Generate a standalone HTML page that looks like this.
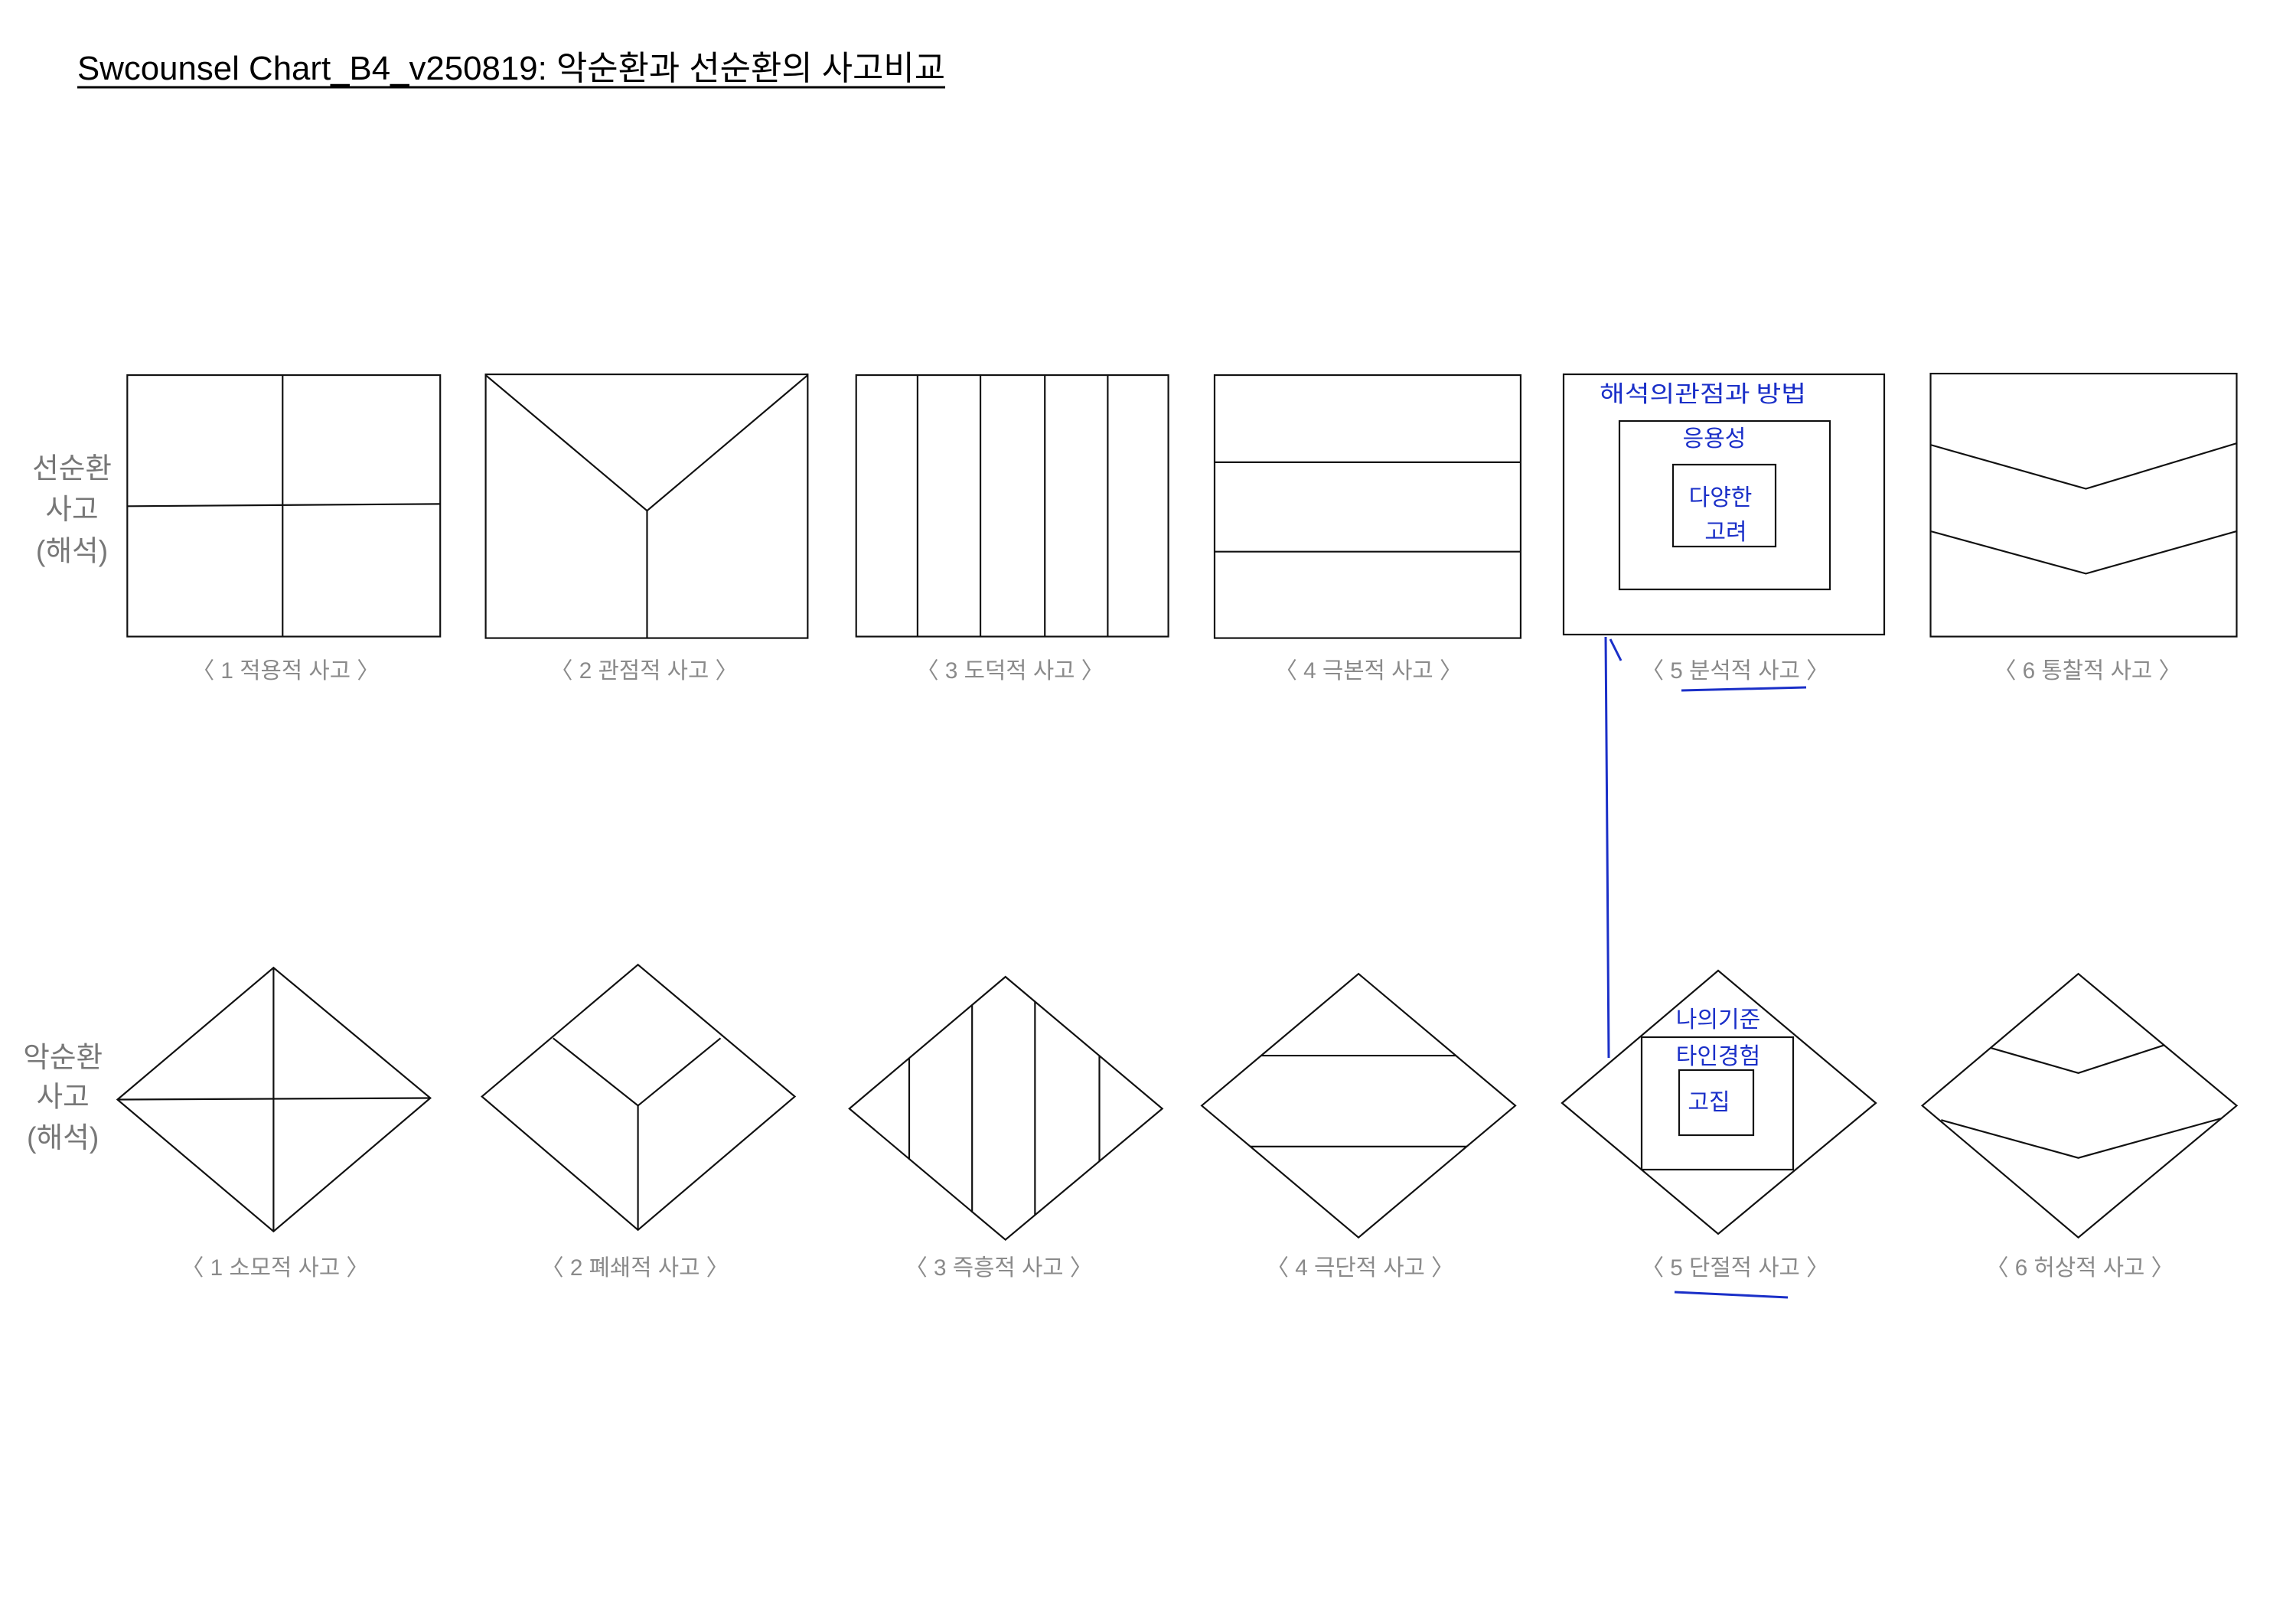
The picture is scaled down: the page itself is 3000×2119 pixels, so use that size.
<!DOCTYPE html>
<html><head><meta charset="utf-8"><style>
html,body{margin:0;padding:0;background:#fff;}
svg{display:block;}
text{font-family:"Liberation Sans","Noto Sans CJK KR",sans-serif;}
.l{font-size:30px;fill:#8a8a8a;text-anchor:middle;}
.s{font-size:38px;fill:#777;text-anchor:middle;}
.h{font-size:30px;fill:#1a2fc8;text-anchor:middle;font-family:"WenQuanYi Zen Hei","Noto Sans CJK KR",sans-serif;}
</style></head><body>
<svg width="3000" height="2119" viewBox="0 0 3000 2119" xmlns="http://www.w3.org/2000/svg">
<text x="101" y="104" font-size="44" fill="#000" textLength="1134" lengthAdjust="spacingAndGlyphs">Swcounsel Chart_B4_v250819: 악순환과 선순환의 사고비교</text>
<line x1="101" y1="114" x2="1235" y2="114" stroke="#000" stroke-width="3"/>

<g transform="scale(0.99)">
<g fill="none" stroke="#111" stroke-width="2.2">
<rect x="168" y="495" width="413" height="345"/>
<line x1="373" y1="495" x2="373" y2="840"/><line x1="168" y1="668" x2="581" y2="665"/>
<rect x="641" y="494" width="425" height="348"/>
<polyline points="641,495 854,674 1066,495"/><line x1="854" y1="674" x2="854" y2="842"/>
<rect x="1130" y="495" width="412" height="345"/>
<line x1="1211" y1="495" x2="1211" y2="840"/><line x1="1294" y1="495" x2="1294" y2="840"/><line x1="1379" y1="495" x2="1379" y2="840"/><line x1="1462" y1="495" x2="1462" y2="840"/>
<rect x="1603" y="495" width="404" height="347"/>
<line x1="1603" y1="610" x2="2007" y2="610"/><line x1="1603" y1="728" x2="2007" y2="728"/>
<rect x="2548" y="493" width="404" height="347"/>
<polyline points="2548,587 2753,645 2952,585"/><polyline points="2548,701 2753,757 2952,701"/>

<polygon points="155,1451 361,1277 568,1449 361,1625"/>
<line x1="155" y1="1451" x2="568" y2="1449"/><line x1="361" y1="1277" x2="361" y2="1625"/>
<polygon points="636,1447 842,1273 1049,1447 842,1623"/>
<polyline points="730,1370 842,1459 951,1370"/><line x1="842" y1="1459" x2="842" y2="1623"/>
<polygon points="1121,1463 1327,1289 1534,1463 1327,1636"/>
<line x1="1200" y1="1396" x2="1200" y2="1530"/><line x1="1283" y1="1326" x2="1283" y2="1600"/><line x1="1366" y1="1322" x2="1366" y2="1604"/><line x1="1451" y1="1394" x2="1451" y2="1532"/>
<polygon points="1586,1459 1793,1285 2000,1459 1793,1633"/>
<line x1="1664" y1="1393" x2="1922" y2="1393"/><line x1="1650" y1="1513" x2="1936" y2="1513"/>
<polygon points="2537,1459 2743,1285 2952,1459 2743,1633"/>
<polyline points="2628,1383 2743,1416 2857,1379"/><polyline points="2562,1478 2743,1528 2931,1476"/>
</g>

<text class="s" x="95" y="631">선순환</text><text class="s" x="95" y="685">사고</text><text class="s" x="95" y="740">(해석)</text>
<text class="s" x="83" y="1408">악순환</text><text class="s" x="83" y="1460">사고</text><text class="s" x="83" y="1514">(해석)</text>

<text class="l" x="377" y="895">〈 1 적용적 사고 〉</text>
<text class="l" x="850" y="895">〈 2 관점적 사고 〉</text>
<text class="l" x="1333" y="895">〈 3 도덕적 사고 〉</text>
<text class="l" x="1806" y="895">〈 4 극본적 사고 〉</text>
<text class="l" x="2290" y="895">〈 5 분석적 사고 〉</text>
<text class="l" x="2755" y="895">〈 6 통찰적 사고 〉</text>
<text class="l" x="363" y="1683">〈 1 소모적 사고 〉</text>
<text class="l" x="838" y="1683">〈 2 폐쇄적 사고 〉</text>
<text class="l" x="1318" y="1683">〈 3 즉흥적 사고 〉</text>
<text class="l" x="1795" y="1683">〈 4 극단적 사고 〉</text>
<text class="l" x="2290" y="1683">〈 5 단절적 사고 〉</text>
<text class="l" x="2745" y="1683">〈 6 허상적 사고 〉</text>
</g>

<g fill="none" stroke="#111" stroke-width="2.2">
<rect x="2043" y="489" width="419" height="340"/>
<rect x="2116" y="550" width="275" height="220"/>
<rect x="2186" y="607" width="134" height="107"/>
<polygon points="2041,1441 2245,1268 2451,1441 2245,1612"/>
<rect x="2145" y="1355" width="198" height="173"/>
<rect x="2194" y="1398" width="97" height="85"/>
</g>

<g stroke="#1a2fc8" stroke-width="3" fill="none">
<polyline points="2098,832 2100,1100 2102,1382"/>
<line x1="2104" y1="835" x2="2118" y2="863"/>
<line x1="2197" y1="902" x2="2360" y2="898"/>
<line x1="2188" y1="1688" x2="2336" y2="1695"/>
</g>
<text class="h" x="2225" y="525" textLength="270" lengthAdjust="spacingAndGlyphs">해석의관점과 방법</text>
<text class="h" x="2240" y="583">응용성</text>
<text class="h" x="2248" y="660" font-size="26">다양한</text>
<text class="h" x="2255" y="705" font-size="26">고려</text>
<text class="h" x="2245" y="1342">나의기준</text>
<text class="h" x="2245" y="1390">타인경험</text>
<text class="h" x="2233" y="1450" font-size="26">고집</text>
</svg>
</body></html>
